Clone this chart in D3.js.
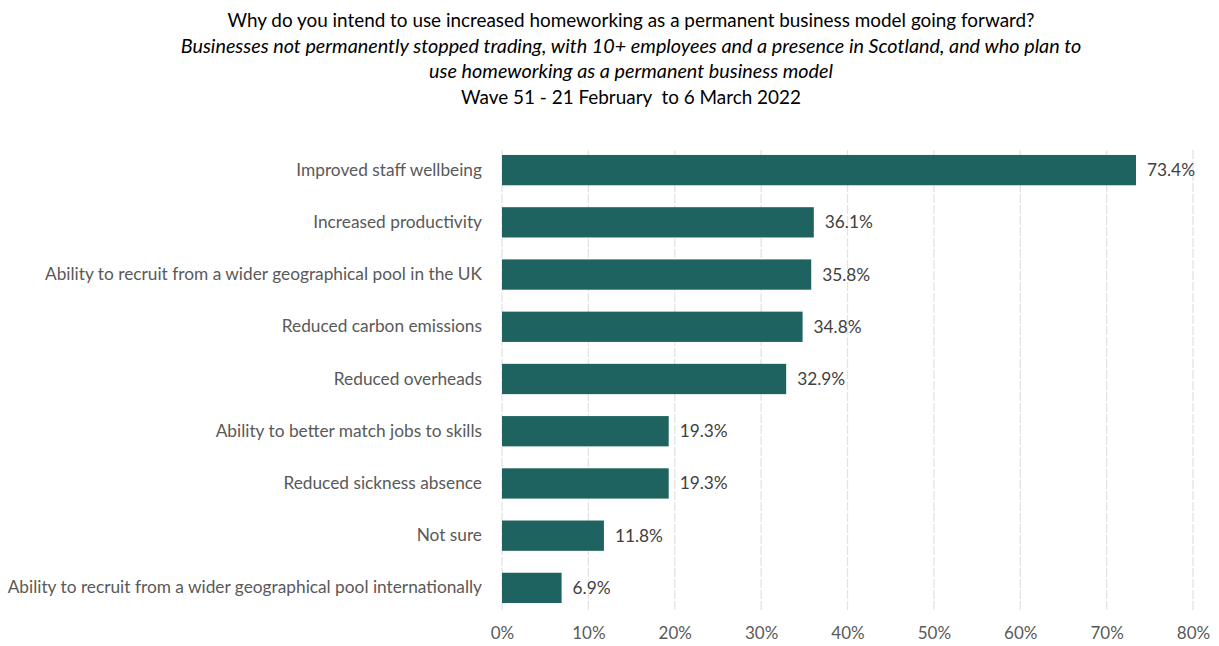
<!DOCTYPE html>
<html>
<head>
<meta charset="utf-8">
<script src="https://cdn.jsdelivr.net/npm/d3@7"></script>
<style>
  body { margin: 0; background: #fff; }
  svg { display: block; font-family: Lato, "Open Sans", sans-serif; }
</style>
</head>
<body>
<svg id="chart" width="1219" height="646"></svg>
<script>
// Reasons for permanent homeworking, share of businesses (%)
const categories = [
  "Improved staff wellbeing",
  "Increased productivity",
  "Ability to recruit from a wider geographical pool in the UK",
  "Reduced carbon emissions",
  "Reduced overheads",
  "Ability to better match jobs to skills",
  "Reduced sickness absence",
  "Not sure",
  "Ability to recruit from a wider geographical pool internationally"
];
const values = [73.4, 36.1, 35.8, 34.8, 32.9, 19.3, 19.3, 11.8, 6.9];
const tickValues = [0, 10, 20, 30, 40, 50, 60, 70, 80];
const titleLines = [
  { text: "Why do you intend to use increased homeworking as a permanent business model going forward?", italic: false },
  { text: "Businesses not permanently stopped trading, with 10+ employees and a presence in Scotland, and who plan to", italic: true },
  { text: "use homeworking as a permanent business model", italic: true },
  { text: "Wave 51 - 21 February  to 6 March 2022", italic: false }
];

const svg = d3.select("#chart");
const plotLeft = 502, plotRight = 1193, plotTop = 144, plotBottom = 614;

const x = d3.scaleLinear().domain([0, 80]).range([plotLeft, plotRight]);
const y = d3.scaleBand().domain(categories).range([plotTop, plotBottom]).paddingInner(0.42).paddingOuter(0.21);

// Title block
svg.append("g").selectAll("text").data(titleLines).join("text")
  .attr("x", 631).attr("y", (d, i) => 27 + i * 25.7)
  .attr("text-anchor", "middle")
  .attr("font-size", d => d.italic ? 19.8 : 18.9)
  .attr("font-style", d => d.italic ? "italic" : "normal")
  .attr("fill", "#000")
  .style("white-space", "pre")
  .text(d => d.text);

// Vertical gridlines
svg.append("g").selectAll("line").data(tickValues).join("line")
  .attr("x1", d => x(d)).attr("x2", d => x(d))
  .attr("y1", 150).attr("y2", 612)
  .attr("stroke", "#e3e3e3").attr("stroke-width", 1.3)
  .attr("stroke-dasharray", "9,2");

// x axis tick labels
const xAxis = d3.axisBottom(x).tickValues(tickValues).tickFormat(d => d + "%").tickSize(0).tickPadding(0);
const gx = svg.append("g").attr("transform", `translate(0,${627})`).call(xAxis);
gx.select(".domain").remove();
gx.selectAll("text").attr("font-size", 17).attr("fill", "#595959").attr("font-family", "Lato, sans-serif");

// Category labels
const yAxis = d3.axisLeft(y).tickSize(0).tickPadding(20);
const gy = svg.append("g").attr("transform", `translate(${plotLeft},0)`).call(yAxis);
gy.select(".domain").remove();
gy.selectAll("text").attr("font-size", 17.3).attr("fill", "#595959").attr("font-family", "Lato, sans-serif");

// Bars
svg.append("g").selectAll("rect").data(values).join("rect")
  .attr("x", x(0))
  .attr("y", (d, i) => y(categories[i]))
  .attr("width", d => x(d) - x(0))
  .attr("height", y.bandwidth())
  .attr("fill", "#1e6360");

// Value labels
svg.append("g").selectAll("text").data(values).join("text")
  .attr("x", d => x(d) + 11)
  .attr("y", (d, i) => y(categories[i]) + y.bandwidth() / 2)
  .attr("dy", "0.35em")
  .attr("font-size", 17.3)
  .attr("fill", "#404040")
  .text(d => d.toFixed(1) + "%");
</script>
</body>
</html>
